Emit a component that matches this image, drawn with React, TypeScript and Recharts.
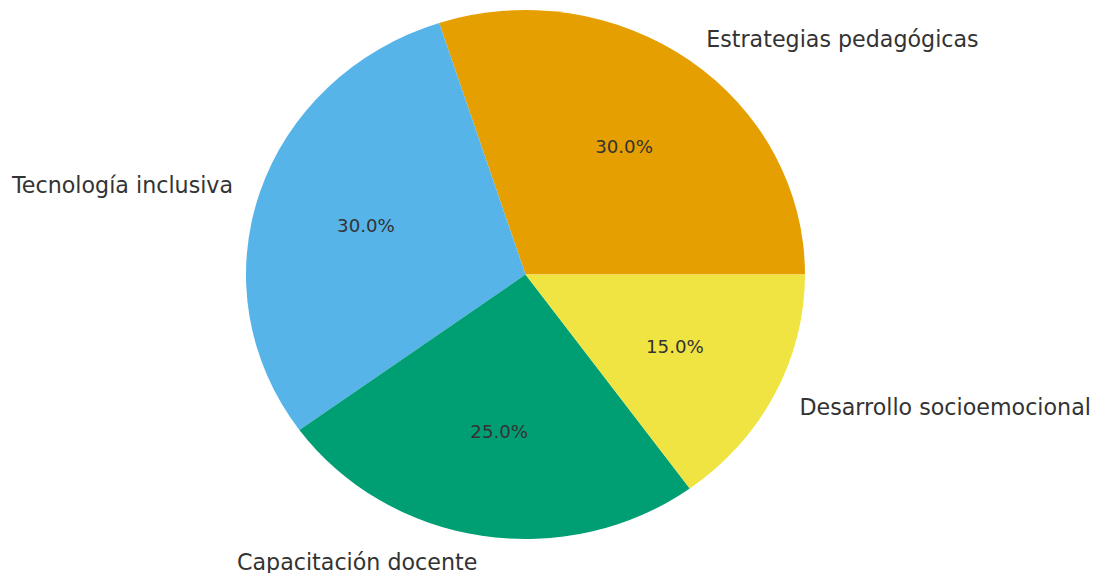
import { PieChart, Pie, Cell } from 'recharts';

const categories = ['Estrategias pedagógicas', 'Tecnología inclusiva', 'Capacitación docente', 'Desarrollo socioemocional'];
const shares = [30, 30, 25, 15];
const colors = ['#E69F00', '#56B4E9', '#009E73', '#F0E442'];

const data = categories.map((name, i) => ({ name, value: shares[i] }));

// the reference pie is slightly squashed vertically
const yScale = 264.5 / 279.5;
const RAD = Math.PI / 180;

const EllipseSector = (props: any) => {
  const { cx, cy, outerRadius, startAngle, endAngle, fill } = props;
  const rx = outerRadius;
  const ry = outerRadius * yScale;
  const x1 = cx + rx * Math.cos(startAngle * RAD);
  const y1 = cy - ry * Math.sin(startAngle * RAD);
  const x2 = cx + rx * Math.cos(endAngle * RAD);
  const y2 = cy - ry * Math.sin(endAngle * RAD);
  const delta = endAngle - startAngle;
  const large = Math.abs(delta) > 180 ? 1 : 0;
  const sweep = delta > 0 ? 0 : 1;
  return (
    <path
      d={`M${cx},${cy} L${x1},${y1} A${rx},${ry} 0 ${large} ${sweep} ${x2},${y2} Z`}
      fill={fill}
      stroke="none"
    />
  );
};

const renderLabel = (props: any) => {
  const { cx, cy, midAngle, outerRadius, percent, name } = props;
  const c = Math.cos(midAngle * RAD);
  const s = Math.sin(midAngle * RAD);
  const rx = outerRadius;
  const ry = outerRadius * yScale;
  return (
    <g>
      <text
        x={cx + 1.1 * rx * c}
        y={cy - 1.1 * ry * s}
        textAnchor={c >= 0 ? 'start' : 'end'}
        dominantBaseline="central"
        fill="#333"
        fontSize={22.2}
        fontFamily="DejaVu Sans"
      >
        {name}
      </text>
      <text
        x={cx + 0.6 * rx * c}
        y={cy - 0.6 * ry * s}
        textAnchor="middle"
        dominantBaseline="central"
        fill="#333"
        fontSize={18.2}
        fontFamily="DejaVu Sans"
      >
        {(percent * 100).toFixed(1)}%
      </text>
    </g>
  );
};

export default function App() {
  return (
    <div style={{ position: 'absolute', left: 0, top: 0, width: 1096, height: 573, background: '#fff' }}>
      <PieChart width={1096} height={573} margin={{ top: 0, right: 0, bottom: 0, left: 0 }}>
        <Pie
          data={data}
          dataKey="value"
          nameKey="name"
          cx={525.5}
          cy={274.5}
          outerRadius={279.5}
          startAngle={0}
          endAngle={360}
          paddingAngle={0}
          stroke="none"
          shape={EllipseSector}
          label={renderLabel}
          labelLine={false}
          isAnimationActive={false}
        >
          {data.map((d, i) => (
            <Cell key={d.name} fill={colors[i]} />
          ))}
        </Pie>
      </PieChart>
    </div>
  );
}
